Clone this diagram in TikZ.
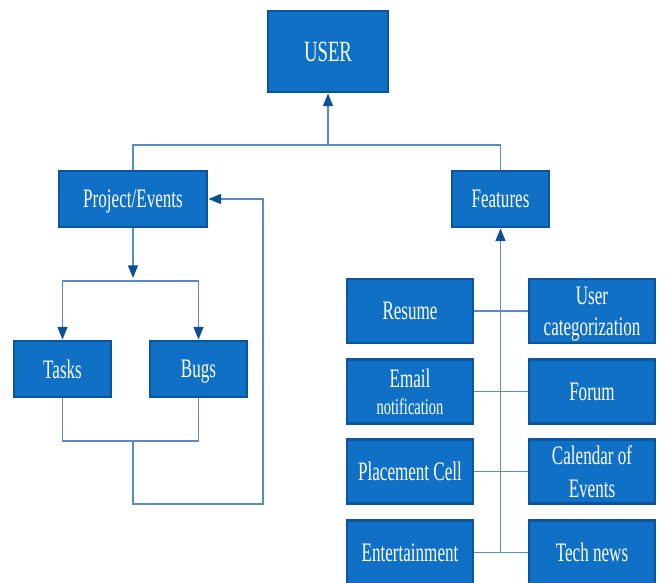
\documentclass[tikz,border=0pt]{standalone}
\usepackage{fontspec}
\setmainfont{Liberation Serif}[FakeStretch=0.64]
\usetikzlibrary{arrows.meta,calc}
\definecolor{boxfill}{HTML}{1070C6}
\definecolor{boxedge}{HTML}{0B559F}
\definecolor{linkblue}{HTML}{5A8CC2}
\definecolor{tipblue}{HTML}{0D4F94}
\tikzstyle{block}=[draw=boxedge,fill=boxfill,line width=2.2pt,text=white,align=center,inner sep=0pt,text depth=0pt,font=\fontsize{20}{23}\selectfont]
\tikzstyle{link}=[draw=linkblue,line width=1.1pt]
\tikzstyle{arrowlink}=[link,-{Triangle[width=7.5pt,length=9.5pt,color=tipblue]}]
\tikzset{dims/.style 2 args={minimum width=#1*0.75pt,minimum height=#2*0.75pt}}
\newcommand{\featpair}[5]{% y, left name, left text, right name, right text
\node[block,dims={126}{64}] (#2) at (410,#1) {#3};
\node[block,dims={126}{64}] (#4) at (592,#1) {#5};
\draw[link] (#2.east) -- (#4.west);
}
\begin{document}
\begin{tikzpicture}[x=0.75pt,y=-0.75pt]
\useasboundingbox (0,0) rectangle (666,582);
\node[block,dims={120}{81},font=\fontsize{22}{25}\selectfont] (user) at (328,51.5) {USER};
\node[block,dims={148}{56}] (proj) at (133,199) {Project/Events};
\node[block,dims={97}{56}] (feat) at (500.5,199) {Features};
\node[block,dims={97}{56}] (tasks) at (62.5,369) {Tasks};
\node[block,dims={97}{56}] (bugs) at (198.5,369) {Bugs};
% feature list
\featpair{311}{res}{Resume}{ucat}{User\\categorization}
\featpair{391.5}{mail}{Email\\[-3pt]{\fontsize{17}{19}\selectfont notification}}{forum}{Forum}
\featpair{471.5}{place}{Placement Cell}{cal}{Calendar of\\[2pt]Events}
\featpair{552.5}{ent}{Entertainment}{tech}{Tech news}
% joints
\coordinate (usplit) at (user.south |- 0,145);
\coordinate (psplit) at (proj.south |- 0,281);
\coordinate (tbjoin) at (proj.south |- 0,441);
\coordinate (loopa) at (proj.south |- 0,504);
\coordinate (loopb) at (263,504);
\coordinate (ftrunk) at (feat.south |- ent.east);
\draw[link] (proj.north) |- (usplit) -| (feat.north);
\draw[arrowlink] (usplit) -- (user.south);
\draw[arrowlink] (proj.south) -- ($(psplit)+(0,-3)$);
\draw[arrowlink] (psplit) -| (tasks.north);
\draw[arrowlink] (psplit) -| (bugs.north);
\draw[link] (tasks.south) |- (tbjoin) -| (bugs.south);
\draw[arrowlink] (tbjoin) -- (loopa) -- (loopb) |- (proj.east);
\draw[arrowlink] (ftrunk) -- (feat.south);
\end{tikzpicture}
\end{document}
